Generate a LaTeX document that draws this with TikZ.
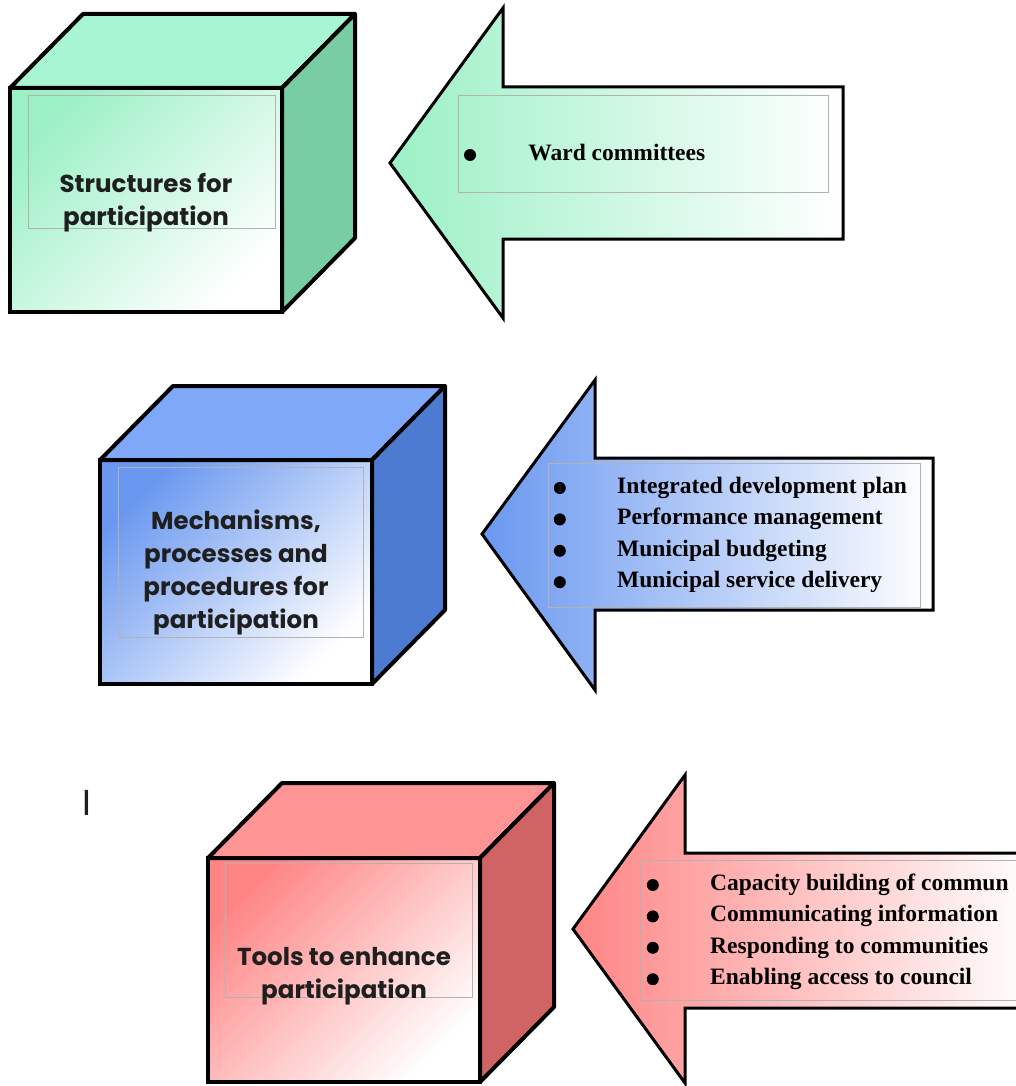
\documentclass[tikz,border=0pt]{standalone}
\usepackage{fontspec}
\setmainfont{Liberation Serif}
\newfontfamily\boxfont{Poppins}
\usetikzlibrary{positioning}

\definecolor{mintTop}{HTML}{A8F5D4}
\definecolor{mintSide}{HTML}{78CDA5}
\definecolor{mintFront}{HTML}{9CF0C6}
\definecolor{skyTop}{HTML}{80A8F8}
\definecolor{skySide}{HTML}{4E7BD2}
\definecolor{skyFront}{HTML}{6A98F0}
\definecolor{roseTop}{HTML}{FF9494}
\definecolor{roseSide}{HTML}{D06464}
\definecolor{roseFront}{HTML}{FF8585}

\begin{document}
\begin{tikzpicture}[x=1pt, y=-1pt]
    \tikzset{
        cubefront/.style = {rectangle, draw=black, line width=4pt, outer sep=0, inner sep=0, minimum width=272pt, minimum height=224pt, anchor=north west},
        face/.style = {draw=black, line width=4pt, line join=round},
        boxtext/.style = {font=\boxfont\bfseries\fontsize{24.5}{33}\selectfont, align=center, text=black!88},
        textframe/.style = {rectangle, draw=gray!60, thin, inner sep=0, anchor=north west},
        bigarrow/.style = {draw=black, line width=3pt},
        listitem/.style = {anchor=west, inner xsep=0, inner ysep=5pt, text height=16pt, text depth=5pt, font=\bfseries\fontsize{23.5}{26}\selectfont},
        bullet/.style = {circle, fill=black, minimum size=12pt, inner sep=0}
    }
    \useasboundingbox (0,0) rectangle (1016,1086);
    \clip (0,0) rectangle (1016,1086);

    % structures
    \node[cubefront, top color=mintFront, bottom color=white, shading angle=45](s_front) at (10,88){};
    \draw[face, fill=mintTop] (s_front.north west) -- ++(73,-74) -- ++(272,0) -- (s_front.north east) -- cycle;
    \draw[face, fill=mintSide] (s_front.north east) -- ++(73,-74) -- ++(0,224) -- (s_front.south east) -- cycle;
    \node[textframe, minimum width=247pt, minimum height=133pt](s_frame) at (28,95){};
    \node[boxtext](s_text) at ([yshift=-3pt]s_front.center){Structures for\\participation};

    \draw[bigarrow, left color=mintFront, right color=white] (390,163) -- (503,8) -- (503,87) -- (843,87) -- (843,239) -- (503,239) -- (503,318) -- cycle;
    \node[textframe, minimum width=370pt, minimum height=97pt](w_frame) at (458,95){};
    \node[bullet](w_d1) at (470,155){};
    \node[listitem](w_1)[right = 52pt of w_d1]{Ward committees};

    % mechanisms
    \node[cubefront, top color=skyFront, bottom color=white, shading angle=45](m_front) at (100,460){};
    \draw[face, fill=skyTop] (m_front.north west) -- ++(73,-74) -- ++(272,0) -- (m_front.north east) -- cycle;
    \draw[face, fill=skySide] (m_front.north east) -- ++(73,-74) -- ++(0,224) -- (m_front.south east) -- cycle;
    \node[textframe, minimum width=245pt, minimum height=170pt](m_frame) at (118,467){};
    \node[boxtext](m_text) at (m_front.center){Mechanisms,\\processes and\\procedures for\\participation};

    \draw[bigarrow, left color=skyFront, right color=white] (482,534) -- (595,380) -- (595,458) -- (933,458) -- (933,610) -- (595,610) -- (595,690) -- cycle;
    \node[textframe, minimum width=372pt, minimum height=144pt](p_frame) at (548,463){};
    \node[listitem](p_1) at (617,488){Integrated development plan};
    \node[listitem](p_2)[below = 0pt of p_1.south west, anchor=north west]{Performance management};
    \node[listitem](p_3)[below = 0pt of p_2.south west, anchor=north west]{Municipal budgeting};
    \node[listitem](p_4)[below = 0pt of p_3.south west, anchor=north west]{Municipal service delivery};
    \node[bullet](p_d1)[left = 51pt of p_1]{};
    \node[bullet](p_d2)[left = 51pt of p_2.west]{};
    \node[bullet](p_d3)[left = 51pt of p_3.west]{};
    \node[bullet](p_d4)[left = 51pt of p_4.west]{};

    % tools
    \node[boxtext, font=\boxfont\fontsize{36}{36}\selectfont](t_bar) at (87,803){I};
    \node[cubefront, top color=roseFront, bottom color=white, shading angle=45](t_front) at (208,858){};
    \draw[face, fill=roseTop] (t_front.north west) -- ++(74,-75) -- ++(272,0) -- (t_front.north east) -- cycle;
    \draw[face, fill=roseSide] (t_front.north east) -- ++(74,-75) -- ++(0,224) -- (t_front.south east) -- cycle;
    \node[textframe, minimum width=247pt, minimum height=134pt](t_frame) at (225,863){};
    \node[boxtext](t_text) at ([yshift=-6pt]t_front.center){Tools to enhance\\participation};

    \draw[bigarrow, left color=roseFront, right color=white] (573,929) -- (685,775) -- (685,853) -- (1030,853) -- (1030,1008) -- (685,1008) -- (685,1083) -- cycle;
    \node[textframe, minimum width=390pt, minimum height=140pt](c_frame) at (640,860){};
    \node[listitem](c_1) at (710,885){Capacity building of commun};
    \node[listitem](c_2)[below = 0pt of c_1.south west, anchor=north west]{Communicating information};
    \node[listitem](c_3)[below = 0pt of c_2.south west, anchor=north west]{Responding to communities};
    \node[listitem](c_4)[below = 0pt of c_3.south west, anchor=north west]{Enabling access to council};
    \node[bullet](c_d1)[left = 51pt of c_1]{};
    \node[bullet](c_d2)[left = 51pt of c_2.west]{};
    \node[bullet](c_d3)[left = 51pt of c_3.west]{};
    \node[bullet](c_d4)[left = 51pt of c_4.west]{};

\end{tikzpicture}
\end{document}
